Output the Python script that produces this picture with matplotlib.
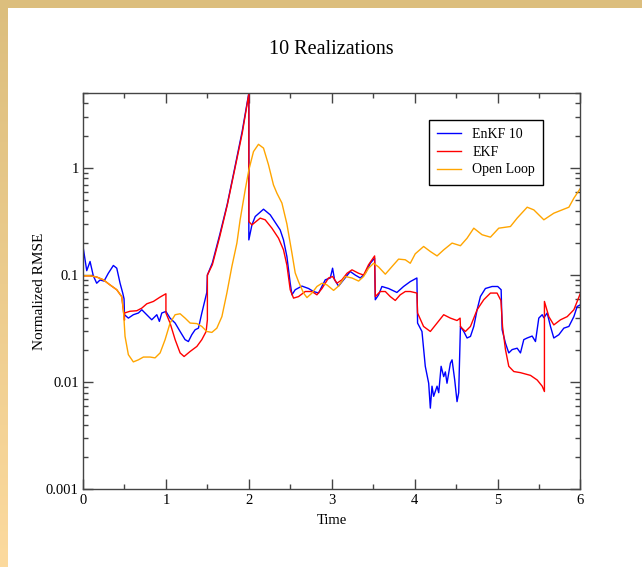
import matplotlib.pyplot as plt
import numpy as np
from matplotlib.patches import Rectangle
from matplotlib.ticker import LogLocator, FixedLocator, FuncFormatter

# EnKF with 10 members
t_enkf = [0.0, 0.045, 0.085, 0.124, 0.165, 0.205, 0.254, 0.305, 0.366, 0.407,
          0.447, 0.479, 0.495, 0.5, 0.547, 0.607, 0.668, 0.709, 0.769, 0.829,
          0.890, 0.921, 0.950, 1.0, 1.050, 1.111, 1.171, 1.231, 1.271, 1.312,
          1.352, 1.392, 1.433, 1.493, 1.5, 1.56, 1.65, 1.74, 1.83, 1.92, 2.0,
          2.0, 2.037, 2.077, 2.177, 2.258, 2.339, 2.378, 2.418, 2.459, 2.499,
          2.520, 2.559, 2.640, 2.720, 2.780, 2.841, 2.922, 2.982, 3.010, 3.034,
          3.082, 3.143, 3.223, 3.284, 3.344, 3.405, 3.465, 3.517, 3.525, 3.565,
          3.605, 3.685, 3.786, 3.866, 3.947, 4.027, 4.035, 4.088, 4.128, 4.169,
          4.189, 4.209, 4.229, 4.270, 4.290, 4.319, 4.350, 4.370, 4.390, 4.431,
          4.451, 4.483, 4.511, 4.531, 4.552, 4.592, 4.632, 4.673, 4.713, 4.753,
          4.793, 4.853, 4.934, 5.002, 5.043, 5.055, 5.095, 5.135, 5.176, 5.236,
          5.276, 5.316, 5.357, 5.417, 5.457, 5.497, 5.538, 5.558, 5.598, 5.638,
          5.678, 5.739, 5.799, 5.860, 5.920, 5.960, 6.0]
rmse_enkf = [0.185, 0.11, 0.134, 0.0986, 0.084, 0.090, 0.088, 0.104, 0.123, 0.116,
             0.084, 0.068, 0.060, 0.0427, 0.0397, 0.0427, 0.0443, 0.0475, 0.0427, 0.0383,
             0.0427, 0.0370, 0.0443, 0.0458, 0.0397, 0.0357, 0.0298, 0.0250, 0.0240, 0.0278,
             0.0309, 0.032, 0.0443, 0.0689, 0.1, 0.13, 0.24, 0.46, 1.0, 2.2, 5.0,
             0.213, 0.294, 0.352, 0.412, 0.365, 0.294, 0.264, 0.213, 0.149, 0.084,
             0.0655, 0.073, 0.079, 0.075, 0.0703, 0.068, 0.0904, 0.094, 0.116, 0.0904,
             0.079, 0.0904, 0.108, 0.1, 0.094, 0.104, 0.129, 0.144, 0.0589, 0.0655,
             0.0783, 0.075, 0.0689, 0.0783, 0.087, 0.094, 0.0357, 0.0298, 0.0141, 0.0098,
             0.00574, 0.0092, 0.0074, 0.0092, 0.0080, 0.0141, 0.0113, 0.0125, 0.0098, 0.0151,
             0.0162, 0.0105, 0.0066, 0.0080, 0.0332, 0.0298, 0.0259, 0.0268, 0.0332, 0.0475,
             0.0632, 0.075, 0.0783, 0.0783, 0.073, 0.0309, 0.0232, 0.0188, 0.0202, 0.0208,
             0.0188, 0.0250, 0.0259, 0.027, 0.024, 0.0397, 0.0427, 0.040, 0.0443, 0.0332,
             0.0259, 0.0278, 0.032, 0.0332, 0.041, 0.051, 0.0529]

# Open loop (no assimilation)
t_ol = [0.0, 0.085, 0.165, 0.245, 0.326, 0.407, 0.467, 0.487, 0.507, 0.547,
        0.607, 0.668, 0.728, 0.809, 0.869, 0.930, 0.990, 1.050, 1.111, 1.171,
        1.231, 1.292, 1.373, 1.433, 1.493, 1.554, 1.614, 1.675, 1.735, 1.795,
        1.856, 1.895, 1.956, 2.0, 2.056, 2.116, 2.177, 2.237, 2.297, 2.339,
        2.399, 2.459, 2.520, 2.559, 2.599, 2.660, 2.701, 2.761, 2.821, 2.882,
        2.942, 3.022, 3.082, 3.163, 3.244, 3.324, 3.384, 3.444, 3.505, 3.565,
        3.646, 3.726, 3.806, 3.887, 3.947, 4.007, 4.108, 4.189, 4.270, 4.350,
        4.451, 4.552, 4.632, 4.713, 4.813, 4.914, 5.014, 5.155, 5.236, 5.357,
        5.437, 5.558, 5.678, 5.799, 5.860, 5.920, 6.0]
rmse_ol = [0.0986, 0.0986, 0.096, 0.0904, 0.081, 0.073, 0.063, 0.0475, 0.0268, 0.0181,
           0.0155, 0.0162, 0.0172, 0.0172, 0.0169, 0.0188, 0.025, 0.0357, 0.0427, 0.0436,
           0.0397, 0.0357, 0.0353, 0.0332, 0.0298, 0.0292, 0.032, 0.041, 0.068, 0.12,
           0.199, 0.328, 0.624, 0.958, 1.42, 1.66, 1.53, 1.07, 0.694, 0.58,
           0.47, 0.30, 0.16, 0.105, 0.087, 0.068, 0.0617, 0.068, 0.0783, 0.084,
           0.081, 0.072, 0.079, 0.097, 0.094, 0.088, 0.097, 0.116, 0.129, 0.119,
           0.102, 0.12, 0.141, 0.139, 0.129, 0.158, 0.185, 0.166, 0.151, 0.172,
           0.199, 0.188, 0.221, 0.274, 0.238, 0.226, 0.274, 0.284, 0.340, 0.430,
           0.406, 0.328, 0.378, 0.412, 0.43, 0.522, 0.647]

# EKF (same as open loop until the first analysis at t=0.5)
t_ekf = [0.0, 0.085, 0.165, 0.245, 0.326, 0.407, 0.467, 0.5, 0.5, 0.567,
         0.648, 0.709, 0.769, 0.849, 0.930, 1.0, 1.0, 1.050, 1.111, 1.171,
         1.219, 1.292, 1.373, 1.433, 1.485, 1.5, 1.5, 1.56, 1.65, 1.74,
         1.83, 1.92, 2.0, 2.0, 2.037, 2.137, 2.197, 2.278, 2.358, 2.418,
         2.459, 2.499, 2.539, 2.599, 2.680, 2.761, 2.821, 2.882, 2.961, 3.010,
         3.063, 3.123, 3.184, 3.244, 3.324, 3.384, 3.444, 3.517, 3.525, 3.585,
         3.646, 3.706, 3.766, 3.826, 3.887, 3.947, 4.027, 4.035, 4.107, 4.189,
         4.270, 4.350, 4.431, 4.511, 4.548, 4.552, 4.612, 4.673, 4.753, 4.833,
         4.914, 4.994, 5.04, 5.06, 5.095, 5.135, 5.196, 5.276, 5.397, 5.478,
         5.538, 5.565, 5.565, 5.618, 5.678, 5.759, 5.840, 5.920, 6.0]
rmse_ekf = [0.0986, 0.0986, 0.096, 0.0904, 0.081, 0.073, 0.063, 0.038, 0.0443, 0.046,
            0.0465, 0.0492, 0.054, 0.0568, 0.0624, 0.067, 0.0443, 0.0357, 0.025, 0.0188,
            0.0174, 0.0194, 0.0216, 0.025, 0.0298, 0.0383, 0.1, 0.125, 0.23, 0.45,
            0.97, 2.1, 4.9, 0.316, 0.294, 0.340, 0.328, 0.274, 0.221, 0.172,
            0.124, 0.073, 0.061, 0.063, 0.0703, 0.0703, 0.0655, 0.075, 0.094, 0.097,
            0.084, 0.0904, 0.104, 0.112, 0.104, 0.1, 0.125, 0.151, 0.063, 0.0703,
            0.0703, 0.063, 0.058, 0.0655, 0.0703, 0.0703, 0.068, 0.0443, 0.0332, 0.0298,
            0.0357, 0.0427, 0.0397, 0.0377, 0.0397, 0.033, 0.0298, 0.0332, 0.0475, 0.0589,
            0.068, 0.068, 0.058, 0.033, 0.0202, 0.0141, 0.0126, 0.0123, 0.0116, 0.0105,
            0.0092, 0.0082, 0.0568, 0.041, 0.0343, 0.0383, 0.041, 0.0475, 0.068]

plt.rcParams['font.family'] = ['Liberation Serif', 'DejaVu Serif']

fig = plt.figure(figsize=(6.42, 5.67), dpi=100)

# tan frame along the top and left edges
bg = fig.add_axes([0, 0, 1, 1], zorder=-1)
bg.set_xlim(0, 642)
bg.set_ylim(0, 567)
bg.axis('off')
grad = np.linspace(0, 1, 256)[:, None]
c_top = np.array([220, 190, 125]) / 255
c_bot = np.array([252, 218, 158]) / 255
strip = (c_bot[None, None, :] * (1 - grad[:, :, None]) + c_top[None, None, :] * grad[:, :, None])
bg.imshow(strip, extent=[0, 8, 0, 567], aspect='auto', origin='lower')
bg.add_patch(Rectangle((0, 559), 642, 8, color=c_top, lw=0))

ax = fig.add_axes([0.1293, 0.1367, 0.7749, 0.6993])
ax.plot(t_enkf, rmse_enkf, color='#0000ff', lw=1.0, label='EnKF 10')
ax.plot(t_ekf, rmse_ekf, color='#ff0000', lw=1.0, label='EKF')
ax.plot(t_ol, rmse_ol, color='#ffa500', lw=1.0, label='Open Loop')

ax.set_yscale('log')
ax.set_xlim(0, 6)
ax.set_ylim(0.001, 5)
ax.xaxis.set_major_locator(FixedLocator([0, 1, 2, 3, 4, 5, 6]))
ax.xaxis.set_minor_locator(FixedLocator([0.5, 1.5, 2.5, 3.5, 4.5, 5.5]))
ax.yaxis.set_major_locator(LogLocator(base=10))
ax.yaxis.set_minor_locator(LogLocator(base=10, subs=np.arange(2, 10)))
ax.yaxis.set_major_formatter(FuncFormatter(lambda v, p: '%g' % v))
ax.tick_params(which='both', direction='in', top=True, right=True,
               color='#444444', labelsize=10.5, pad=3)
ax.tick_params(which='major', length=7.5, width=1)
ax.tick_params(which='minor', length=3.8, width=1)
for s in ax.spines.values():
    s.set_color('#444444')
    s.set_linewidth(1)

ax.set_title('10 Realizations', fontsize=14.5, pad=28)
ax.set_xlabel('Time', fontsize=10.5, labelpad=5)
ax.set_ylabel('Normalized RMSE', fontsize=11, labelpad=0)

leg = ax.legend(loc='upper left', bbox_to_anchor=(429 / 642, 1 - 120 / 567),
                bbox_transform=fig.transFigure, fontsize=10, frameon=True,
                fancybox=False, framealpha=1, edgecolor='black',
                handlelength=1.7, handletextpad=0.8, borderpad=0.6,
                labelspacing=0.33, borderaxespad=0)
leg.get_frame().set_linewidth(1)

fig.savefig('out.png', dpi=100)
